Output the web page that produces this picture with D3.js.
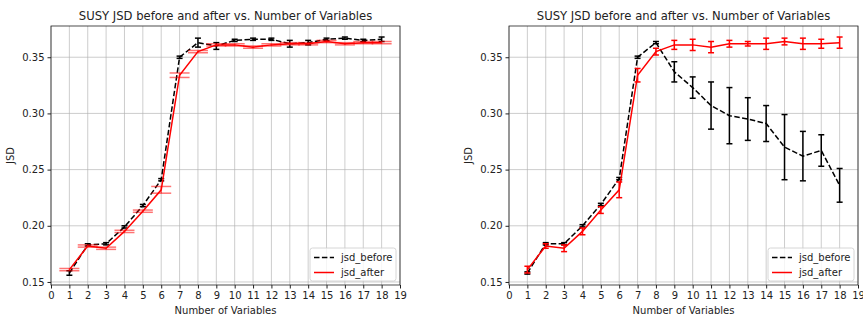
<!DOCTYPE html>
<html>
<head>
<meta charset="utf-8">
<script src="https://cdn.jsdelivr.net/npm/d3@7"></script>
<style>
  body { margin: 0; background: #fff; }
  svg text { font-family: "DejaVu Sans", sans-serif; fill: #222; }
</style>
</head>
<body>
<div id="chart"></div>
<script>
// number of variables (x)
const nVars = [1, 2, 3, 4, 5, 6, 7, 8, 9, 10, 11, 12, 13, 14, 15, 16, 17, 18];
const xTicks = [0, 1, 2, 3, 4, 5, 6, 7, 8, 9, 10, 11, 12, 13, 14, 15, 16, 17, 18, 19];
const yTicks = [0.15, 0.20, 0.25, 0.30, 0.35];

// left panel
const leftBefore = [0.158, 0.183, 0.184, 0.199, 0.218, 0.241, 0.350, 0.363, 0.360, 0.365, 0.366, 0.366, 0.362, 0.363, 0.366, 0.367, 0.365, 0.366];
const leftBeforeErr = [0.002, 0.001, 0.001, 0.001, 0.001, 0.001, 0.001, 0.004, 0.003, 0.001, 0.001, 0.001, 0.003, 0.002, 0.001, 0.001, 0.001, 0.002];
const leftAfter = [0.161, 0.182, 0.180, 0.195, 0.213, 0.232, 0.334, 0.355, 0.361, 0.361, 0.359, 0.361, 0.362, 0.362, 0.364, 0.362, 0.363, 0.363];
const leftAfterErr = [0.001, 0.001, 0.001, 0.001, 0.001, 0.003, 0.002, 0.001, 0.001, 0.001, 0.001, 0.001, 0.001, 0.001, 0.001, 0.001, 0.001, 0.001];

// right panel
const rightBefore = [0.158, 0.184, 0.184, 0.200, 0.219, 0.242, 0.350, 0.363, 0.337, 0.323, 0.307, 0.298, 0.295, 0.291, 0.270, 0.262, 0.267, 0.236];
const rightBeforeErr = [0.001, 0.001, 0.001, 0.001, 0.001, 0.001, 0.001, 0.001, 0.009, 0.0095, 0.021, 0.025, 0.019, 0.016, 0.029, 0.022, 0.014, 0.015];
const rightAfter = [0.161, 0.182, 0.180, 0.195, 0.214, 0.232, 0.334, 0.355, 0.361, 0.361, 0.359, 0.362, 0.362, 0.362, 0.364, 0.362, 0.362, 0.363];
const rightAfterErr = [0.003, 0.002, 0.003, 0.003, 0.003, 0.007, 0.006, 0.003, 0.004, 0.005, 0.005, 0.003, 0.002, 0.005, 0.003, 0.005, 0.004, 0.005];

const titleText = "SUSY JSD before and after vs. Number of Variables";

const width = 863, height = 318;
const svg = d3.select("#chart").append("svg")
    .attr("width", width)
    .attr("height", height);

function drawPanel(left, before, beforeErr, after, afterErr, wideCaps) {
    const x = d3.scaleLinear().domain([0, 19]).range([left, left + 349]);
    const y = d3.scaleLinear().domain([0.1473, 0.3778]).range([285, 26]);
    const g = svg.append("g");

    // grid
    g.selectAll(".gx").data(xTicks).enter().append("line")
        .attr("x1", d => x(d)).attr("x2", d => x(d))
        .attr("y1", 26).attr("y2", 285)
        .attr("stroke", "#b0b0b0").attr("stroke-opacity", 0.8).attr("stroke-width", 0.8);
    g.selectAll(".gy").data(yTicks).enter().append("line")
        .attr("x1", left).attr("x2", left + 349)
        .attr("y1", d => y(d)).attr("y2", d => y(d))
        .attr("stroke", "#b0b0b0").attr("stroke-opacity", 0.8).attr("stroke-width", 0.8);

    // axes
    const xAxis = g.append("g").attr("transform", "translate(0,285)")
        .call(d3.axisBottom(x).tickValues(xTicks).tickFormat(d3.format("d")).tickSize(3.5).tickPadding(3));
    const yAxis = g.append("g").attr("transform", `translate(${left},0)`)
        .call(d3.axisLeft(y).tickValues(yTicks).tickFormat(d3.format(".2f")).tickSize(3.5).tickPadding(3));
    [xAxis, yAxis].forEach(a => {
        a.select(".domain").remove();
        a.selectAll("text").attr("font-size", 10).attr("fill", "#222")
            .style("font-family", "DejaVu Sans, sans-serif");
        a.selectAll("line").attr("stroke", "#222");
    });

    // frame
    g.append("rect")
        .attr("x", left).attr("y", 26).attr("width", 349).attr("height", 259)
        .attr("fill", "none").attr("stroke", "#222").attr("stroke-width", 0.8);

    const line = d3.line().x((d, i) => x(nVars[i])).y(d => y(d));

    function errorBars(vals, errs, color, cap, opacity) {
        const eg = g.append("g").attr("stroke", color).attr("stroke-width", 1.5)
            .attr("stroke-opacity", opacity);
        eg.selectAll(".v").data(vals).enter().append("line")
            .attr("x1", (d, i) => x(nVars[i])).attr("x2", (d, i) => x(nVars[i]))
            .attr("y1", (d, i) => y(d - errs[i])).attr("y2", (d, i) => y(d + errs[i]));
        eg.selectAll(".t").data(vals).enter().append("line")
            .attr("x1", (d, i) => x(nVars[i]) - cap).attr("x2", (d, i) => x(nVars[i]) + cap)
            .attr("y1", (d, i) => y(d + errs[i])).attr("y2", (d, i) => y(d + errs[i]));
        eg.selectAll(".b").data(vals).enter().append("line")
            .attr("x1", (d, i) => x(nVars[i]) - cap).attr("x2", (d, i) => x(nVars[i]) + cap)
            .attr("y1", (d, i) => y(d - errs[i])).attr("y2", (d, i) => y(d - errs[i]));
    }

    // before
    g.append("path").datum(before).attr("d", line)
        .attr("fill", "none").attr("stroke", "black").attr("stroke-width", 1.5)
        .attr("stroke-dasharray", "5.5,2.4");
    errorBars(before, beforeErr, "black", 3, 1);

    // after
    g.append("path").datum(after).attr("d", line)
        .attr("fill", "none").attr("stroke", "red").attr("stroke-width", 1.5);
    if (wideCaps) errorBars(after, afterErr, "red", 10, 0.55);
    else errorBars(after, afterErr, "red", 3, 1);

    // title & labels
    g.append("text").attr("x", left + 174.5).attr("y", 20)
        .attr("text-anchor", "middle").attr("font-size", 11.6).text(titleText);
    g.append("text").attr("x", left + 174.5).attr("y", 314)
        .attr("text-anchor", "middle").attr("font-size", 10).text("Number of Variables");
    g.append("text").attr("transform", `translate(${left - 37},155.5) rotate(-90)`)
        .attr("text-anchor", "middle").attr("font-size", 10).text("JSD");

    // legend
    const lg = g.append("g").attr("transform", `translate(${left + 259},248)`);
    lg.append("rect").attr("width", 86).attr("height", 33).attr("rx", 2.5)
        .attr("fill", "white").attr("fill-opacity", 0.8)
        .attr("stroke", "#ccc").attr("stroke-width", 0.8);
    lg.append("line").attr("x1", 4).attr("x2", 24).attr("y1", 9.5).attr("y2", 9.5)
        .attr("stroke", "black").attr("stroke-width", 1.5).attr("stroke-dasharray", "5.5,2.4");
    lg.append("line").attr("x1", 4).attr("x2", 24).attr("y1", 24.5).attr("y2", 24.5)
        .attr("stroke", "red").attr("stroke-width", 1.5);
    lg.append("text").attr("x", 31).attr("y", 13).attr("font-size", 10).text("jsd_before");
    lg.append("text").attr("x", 31).attr("y", 28).attr("font-size", 10).text("jsd_after");
}

drawPanel(51, leftBefore, leftBeforeErr, leftAfter, leftAfterErr, true);
drawPanel(509, rightBefore, rightBeforeErr, rightAfter, rightAfterErr, false);
</script>
</body>
</html>
